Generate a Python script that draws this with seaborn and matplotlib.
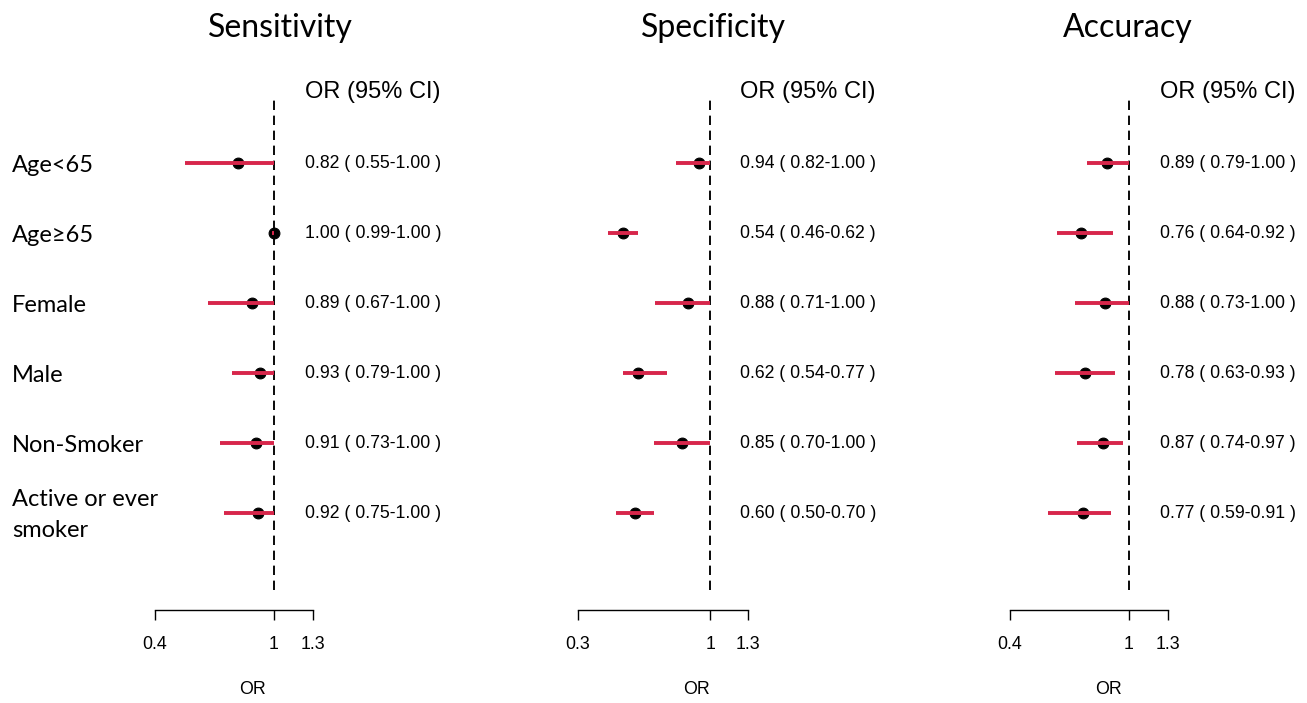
import matplotlib
matplotlib.use('Agg')
import matplotlib.pyplot as plt
import matplotlib.transforms as mtransforms
import pandas as pd
import seaborn as sns

# ---------------------------
# Data
# ---------------------------
groups = ["Age<65", "Age≥65", "Female", "Male", "Non-Smoker", "Active or ever\nsmoker"]

sens_or = [0.82, 1.00, 0.89, 0.93, 0.91, 0.92]
sens_lo = [0.55, 0.99, 0.67, 0.79, 0.73, 0.75]
sens_hi = [1.00, 1.00, 1.00, 1.00, 1.00, 1.00]

spec_or = [0.94, 0.54, 0.88, 0.62, 0.85, 0.60]
spec_lo = [0.82, 0.46, 0.71, 0.54, 0.70, 0.50]
spec_hi = [1.00, 0.62, 1.00, 0.77, 1.00, 0.70]

acc_or = [0.89, 0.76, 0.88, 0.78, 0.87, 0.77]
acc_lo = [0.79, 0.64, 0.73, 0.63, 0.74, 0.59]
acc_hi = [1.00, 0.92, 1.00, 0.93, 0.97, 0.91]

panel_titles = ["Sensitivity", "Specificity", "Accuracy"]
tick_vals = [[0.4, 1, 1.2], [0.3, 1, 1.2], [0.4, 1, 1.2]]
tick_text = [["0.4", "1", "1.3"], ["0.3", "1", "1.3"], ["0.4", "1", "1.3"]]

# ---------------------------
# Layout (pixels)
# ---------------------------
W, H = 1307, 703
DPI = 100
ax_px = [(155, 313), (578, 748), (1010, 1168)]   # left/right of each axis
ax_top, ax_bot = 97, 610
row0_px, row_step = 163, 70
dash_bottom = 590
title_x = [280, 713, 1128]
text_x = [305, 740, 1160]
orlab_x = [253, 696, 1108]
red = "#D7264B"

sns.set_theme(style="white")
plt.rcParams['font.family'] = ['Liberation Sans', 'DejaVu Sans']
plt.rcParams['text.color'] = 'black'
plt.rcParams['xtick.color'] = 'black'
plt.rcParams['axes.labelcolor'] = 'black'

fig = plt.figure(figsize=(W / DPI, H / DPI), dpi=DPI)

n = len(groups)
ylim_top = -(row0_px - ax_top) / row_step
ylim_bot = (ax_bot - row0_px) / row_step

series = [(sens_or, sens_lo, sens_hi), (spec_or, spec_lo, spec_hi), (acc_or, acc_lo, acc_hi)]

for k, (vals, lo, hi) in enumerate(series):
    l, r = ax_px[k]
    ax = fig.add_axes([l / W, 1 - ax_bot / H, (r - l) / W, (ax_bot - ax_top) / H])
    df = pd.DataFrame({"group": range(n), "OR": vals, "lo": lo, "hi": hi})

    ax.set_xlim(tick_vals[k][0], tick_vals[k][-1])
    ax.set_ylim(ylim_bot, ylim_top)

    frac = (ax_bot - dash_bottom) / (ax_bot - ax_top)
    ax.axvline(1, ymin=frac, ymax=1, color="black", linestyle=(0, (5, 3)), linewidth=1.35, zorder=1)

    sns.scatterplot(data=df, x="OR", y="group", ax=ax, s=60, color="black",
                    edgecolor="black", linewidth=0.8, zorder=3, legend=False, clip_on=False)
    ax.hlines(df["group"], df["lo"], df["hi"], color=red, linewidth=2.8, zorder=4, clip_on=False)

    for side in ["top", "right", "left"]:
        ax.spines[side].set_visible(False)
    ax.spines["bottom"].set_color("black")
    ax.spines["bottom"].set_linewidth(1.0)
    ax.set_yticks([])
    ax.set_xticks(tick_vals[k])
    ax.set_xticklabels(tick_text[k])
    ax.tick_params(axis="x", direction="out", length=7.5, width=1.0, color="black",
                   labelcolor="black", pad=11, labelsize=12.8, bottom=True)
    ax.set_xlabel("")
    ax.set_ylabel("")
    ax.grid(False)

    trans = mtransforms.blended_transform_factory(fig.transFigure, ax.transData)
    for i in range(n):
        ax.text(text_x[k] / W, i, f"{vals[i]:.2f} ( {lo[i]:.2f}-{hi[i]:.2f} )",
                transform=trans, ha="left", va="center", fontsize=12.7, color="black")
        if k == 0:
            ax.text(12 / W, i + 0.03, groups[i], transform=trans, ha="left", va="center",
                    fontsize=17, family=["Lato", "DejaVu Sans"], linespacing=1.6, color="black")

    fig.text(text_x[k] / W, 1 - 92 / H, "OR (95% CI)", ha="left", va="center", fontsize=17)
    fig.text(title_x[k] / W, 1 - 28 / H, panel_titles[k], ha="center", va="center",
             fontsize=23, family=["Lato", "DejaVu Sans"])
    fig.text(orlab_x[k] / W, 1 - 690 / H, "OR", ha="center", va="center", fontsize=12.8)

fig.savefig("out.png", dpi=DPI)
plt.close(fig)
